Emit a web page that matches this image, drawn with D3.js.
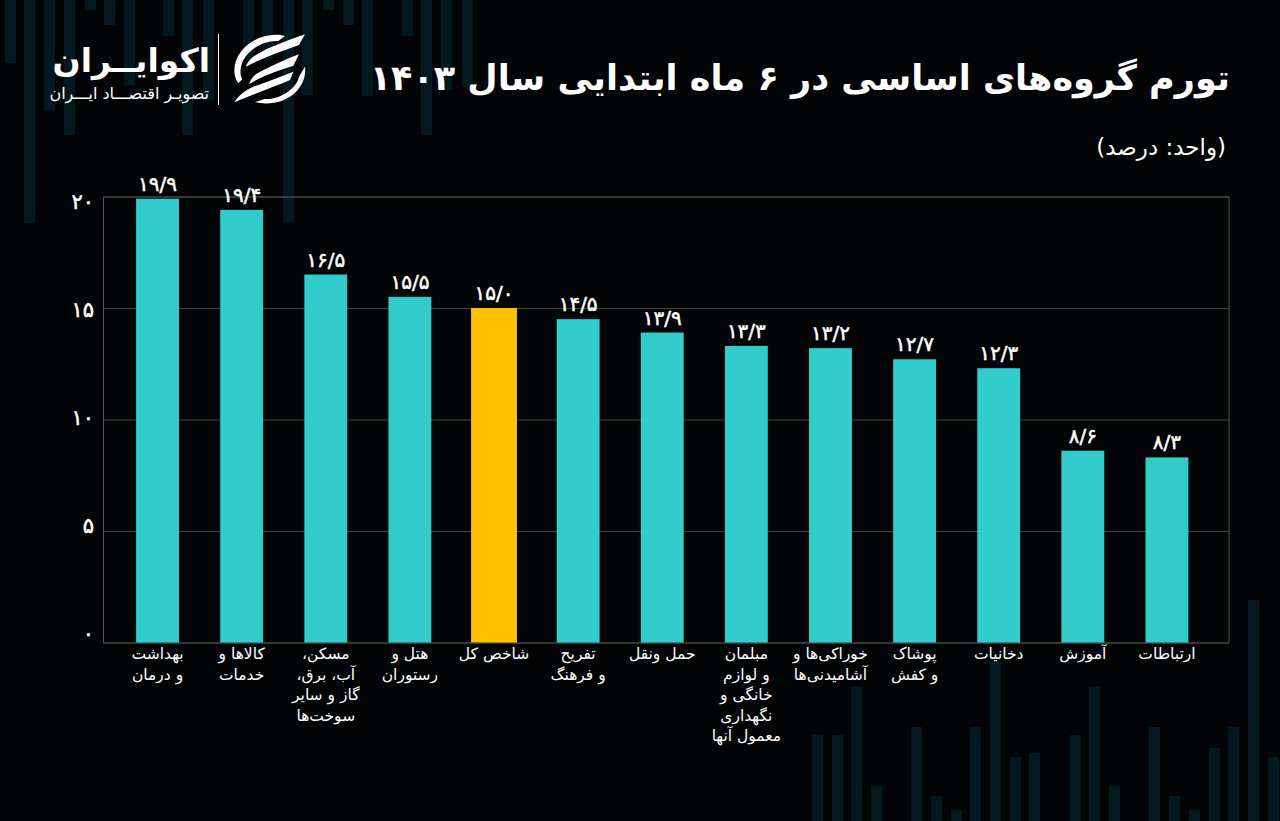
<!DOCTYPE html>
<html lang="fa">
<head>
<meta charset="utf-8">
<script src="https://cdn.jsdelivr.net/npm/d3@7"></script>
<style>
  html, body { margin: 0; padding: 0; background: #020405; }
  text { font-family: "DejaVu Sans", sans-serif; fill: #fff; }
</style>
</head>
<body>
<div id="chart"></div>
<script>
var categories = [
  ["بهداشت", "و درمان"],
  ["کالاها و", "خدمات"],
  ["مسکن،", "آب، برق،", "گاز و سایر", "سوخت‌ها"],
  ["هتل و", "رستوران"],
  ["شاخص کل"],
  ["تفریح", "و فرهنگ"],
  ["حمل ونقل"],
  ["مبلمان", "و لوازم", "خانگی و", "نگهداری", "معمول آنها"],
  ["خوراکی‌ها و", "آشامیدنی‌ها"],
  ["پوشاک", "و کفش"],
  ["دخانیات"],
  ["آموزش"],
  ["ارتباطات"]
];
var values = [19.9, 19.4, 16.5, 15.5, 15.0, 14.5, 13.9, 13.3, 13.2, 12.7, 12.3, 8.6, 8.3];
var valueLabels = ["۱۹/۹", "۱۹/۴", "۱۶/۵", "۱۵/۵", "۱۵/۰", "۱۴/۵", "۱۳/۹", "۱۳/۳", "۱۳/۲", "۱۲/۷", "۱۲/۳", "۸/۶", "۸/۳"];
var yTicks = [0, 5, 10, 15, 20];
var yTickLabels = ["۰", "۵", "۱۰", "۱۵", "۲۰"];
var totalIndex = 4;

// faint candles behind the chart
var topCandleX = [5, 24, 44, 64, 85, 104, 124, 163, 182, 203, 243, 262, 283, 302, 323, 343, 362, 402, 421, 441, 462];
var topCandleEnd = [63, 223, 110, 135, 10, 25, 85, 36, 135, 100, 60, 60, 222, 95, 10, 25, 96, 36, 135, 90, 87];
var bottomCandleX = [812, 832, 851, 871, 911, 931, 951, 970, 990, 1010, 1029, 1070, 1089, 1109, 1149, 1169, 1189, 1209, 1228, 1248, 1268];
var bottomCandleTop = [735, 735, 687, 786, 727, 796, 810, 727, 660, 757, 753, 735, 687, 786, 727, 796, 810, 748, 727, 600, 757];

var width = 1280, height = 821;
var margin = {top: 196.5, right: 51, bottom: 178.5, left: 103};

var svg = d3.select("#chart").append("svg")
  .attr("width", width)
  .attr("height", height)
  .style("display", "block");

svg.append("rect").attr("width", width).attr("height", height).attr("fill", "#020405");

var candles = svg.append("g").attr("fill", "#04191f");
candles.selectAll(".top").data(topCandleX).enter().append("rect")
  .attr("class", "top")
  .attr("x", function(d){ return d; })
  .attr("y", 0)
  .attr("width", 11)
  .attr("height", function(d, i){ return topCandleEnd[i]; });
candles.selectAll(".bottom").data(bottomCandleX).enter().append("rect")
  .attr("class", "bottom")
  .attr("x", function(d){ return d; })
  .attr("y", function(d, i){ return bottomCandleTop[i]; })
  .attr("width", 11)
  .attr("height", function(d, i){ return height - bottomCandleTop[i]; });

var x = d3.scaleBand()
  .domain(d3.range(values.length))
  .range([115.5, 1209])
  .paddingInner(0.49)
  .paddingOuter(0.245);

var y = d3.scaleLinear()
  .domain([0, 20])
  .range([height - margin.bottom, margin.top]);

// the tick labels in the picture are spaced a little tighter than the gridlines
var yLabel = d3.scaleLinear().domain([0, 20]).range([640, 208]);

var yAxis = d3.axisLeft(y)
  .tickValues(yTicks)
  .tickSize(-(width - margin.left - margin.right))
  .tickPadding(9)
  .tickFormat(function(d, i){ return yTickLabels[i]; });

var yG = svg.append("g")
  .attr("transform", "translate(" + margin.left + ",0)")
  .call(yAxis);
yG.select(".domain").attr("stroke", "#555").attr("stroke-width", 1);
yG.selectAll(".tick line").attr("stroke", "#444").attr("stroke-width", 1);
yG.selectAll(".tick text")
  .attr("font-size", 21)
  .attr("font-family", "DejaVu Sans")
  .attr("fill", "#fff")
  .attr("stroke", "#fff")
  .attr("stroke-width", 0.5)
  .attr("dy", 0)
  .attr("y", function(d){ return yLabel(d) - y(d); });

// right edge of the frame
svg.append("line")
  .attr("x1", width - margin.right).attr("x2", width - margin.right)
  .attr("y1", margin.top).attr("y2", height - margin.bottom)
  .attr("stroke", "#555");

svg.selectAll(".bar").data(values).enter().append("rect")
  .attr("class", "bar")
  .attr("x", function(d, i){ return i == totalIndex ? x(i) - 1.5 : x(i); })
  .attr("y", function(d){ return y(d); })
  .attr("width", function(d, i){ return i == totalIndex ? x.bandwidth() + 3 : x.bandwidth(); })
  .attr("height", function(d){ return y(0) - y(d); })
  .attr("fill", function(d, i){ return i == totalIndex ? "#ffc000" : "#33cccc"; });

svg.selectAll(".val").data(values).enter().append("text")
  .attr("class", "val")
  .attr("x", function(d, i){ return x(i) + x.bandwidth() / 2; })
  .attr("y", function(d){ return y(d) - 8; })
  .attr("text-anchor", "middle")
  .attr("font-size", 20)
  .attr("stroke", "#fff")
  .attr("stroke-width", 0.5)
  .text(function(d, i){ return valueLabels[i]; });

// category labels, one tspan per line
var cat = svg.selectAll(".cat").data(categories).enter().append("text")
  .attr("class", "cat")
  .attr("text-anchor", "middle")
  .attr("direction", "rtl")
  .attr("font-size", 15.5);
cat.selectAll("tspan").data(function(d, i){
    return d.map(function(t){ return {t: t, i: i}; });
  }).enter().append("tspan")
  .attr("x", function(d){ return x(d.i) + x.bandwidth() / 2; })
  .attr("y", function(d, j){ return 659 + j * 20.5; })
  .text(function(d){ return d.t; });

// header
svg.append("text")
  .attr("x", 1230).attr("y", 90)
  .attr("text-anchor", "start")
  .attr("direction", "rtl")
  .attr("font-size", 35)
  .attr("font-weight", "bold")
  .text("تورم گروه‌های اساسی در ۶ ماه ابتدایی سال ۱۴۰۳");
svg.append("text")
  .attr("x", 1226).attr("y", 155)
  .attr("text-anchor", "start")
  .attr("direction", "rtl")
  .attr("font-size", 23)
  .text("(واحد: درصد)");

// logo
svg.append("text")
  .attr("x", 210).attr("y", 72)
  .attr("direction", "rtl")
  .attr("font-size", 33)
  .attr("font-weight", "bold")
  .text("اکوایــران");
svg.append("text")
  .attr("x", 209).attr("y", 99)
  .attr("direction", "rtl")
  .attr("font-size", 16)
  .text("تصویـر اقتصـــاد ایـــران");
svg.append("line")
  .attr("x1", 218.5).attr("x2", 218.5).attr("y1", 34).attr("y2", 105)
  .attr("stroke", "#fff").attr("stroke-width", 1);

var logo = svg.append("g").attr("fill", "#fff").attr("transform", "translate(225,25) scale(0.3333)");
logo.append("path").attr("d", "M240,28 L222,60 C180,75 120,95 62,125 C70,105 85,92 110,80 C150,60 200,42 240,28 Z");
logo.append("path").attr("d", "M222,88 L205,122 C165,135 115,150 72,178 C78,160 88,148 110,138 C150,118 190,100 222,88 Z");
logo.append("path").attr("d", "M205,140 L195,165 C150,185 90,205 28,232 C45,205 70,190 100,180 C140,165 175,152 205,140 Z");
logo.append("path").attr("d", "M180,33 C120,15 30,60 28,135 C28,150 32,165 40,175 L52,163 C45,150 45,135 50,118 C62,80 110,45 160,48 Z");
logo.append("path").attr("d", "M240,125 C248,195 175,250 90,232 L118,222 C165,225 215,190 222,155 Z");
</script>
</body>
</html>
